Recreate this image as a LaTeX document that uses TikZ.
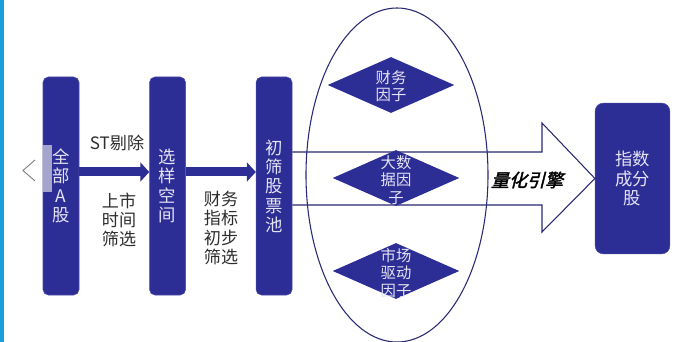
\documentclass[tikz,border=0pt]{standalone}
\usepackage{fontspec}
\setmainfont{Noto Sans CJK SC}
\newfontfamily\enginefont[FakeSlant=0.25,FakeBold=2]{Noto Sans CJK SC}
\usetikzlibrary{shapes.geometric,arrows.meta,positioning}
\definecolor{indexBlue}{RGB}{45,45,150}
\definecolor{lineNavy}{RGB}{40,40,115}
\definecolor{paleText}{RGB}{228,228,245}
\definecolor{labelGray}{RGB}{45,45,45}
\definecolor{edgeBlue}{RGB}{25,160,220}
\definecolor{maskGray}{RGB}{185,185,215}
\tikzset{
  stockbox/.style={fill=indexBlue,draw=indexBlue!85!white,rounded corners=4pt,
    minimum width=27pt,minimum height=163.5pt,inner sep=0pt,text=paleText,
    font=\fontsize{13}{14.5}\selectfont,align=center},
  factordiamond/.style={diamond,fill=indexBlue,minimum width=95pt,minimum height=42pt,inner sep=0pt},
  factortext/.style={text=paleText,font=\fontsize{11.5}{13}\selectfont,align=center,inner sep=0pt},
  steplabel/.style={text=labelGray,font=\fontsize{12.8}{14.3}\selectfont,align=center,inner sep=0pt},
  flowarrow/.style={indexBlue,line width=6.75pt,-{Triangle[length=6.75pt,width=14.25pt]}},
  enginearrow/.style={lineNavy,line width=0.8pt,line join=miter}
}
\begin{document}
\begin{tikzpicture}[x=0.75pt,y=-0.75pt]
  \useasboundingbox (0,0) rectangle (693,342);
  \fill[white] (0,0) rectangle (693,342);
  % screen edge
  \fill[edgeBlue] (0,0) rectangle (4,342);
  % stock boxes
  \node[stockbox] (allA) at (61,186) {全\\部\\A\\股};
  \node[stockbox,right=52.5pt of allA] (sample) {选\\样\\空\\间};
  \node[stockbox,right=52.5pt of sample] (pool) {初\\筛\\股\\票\\池};
  \node[stockbox,minimum width=56pt,minimum height=113pt,rounded corners=6pt] (index) at (632.5,178.5) {指数\\成分\\股};
  % overlay marks
  \fill[maskGray,opacity=0.85] (43,145) rectangle (52,192);
  \draw[gray,line width=0.7pt] (35,160) -- (23,170.5) -- (35,181);
  % filter arrows
  \draw[flowarrow] ([yshift=10.5pt]allA.east) -- ([yshift=10.5pt]sample.west);
  \draw[flowarrow] ([yshift=10.5pt]sample.east) -- ([yshift=10.5pt]pool.west);
  \node[steplabel] (stCut) at (117,143) {ST剔除};
  \node[steplabel] (listTime) at (119,220) {上市\\时间\\筛选};
  \node[steplabel] (finFilter) at (221,228) {财务\\指标\\初步\\筛选};
  % factor ellipse
  \draw[lineNavy,line width=0.8pt] (397,175) ellipse [x radius=68.25pt,y radius=125.25pt];
  % quant engine arrow
  \draw[enginearrow] ([yshift=25.5pt]pool.east) -- (542,152) -- (542,123) -- (index.west)
    -- (542,232) -- (542,205) -- ([yshift=-14.25pt]pool.east);
  \node[inner sep=0pt,text=black,font=\enginefont\fontsize{13.5}{15}\selectfont] (engine) at (527,180) {量化引擎};
  % factors
  \node[factordiamond] (finD) at (391,85) {};
  \node[factortext] (finL) at (391,86) {财务\\因子};
  \node[factordiamond] (dataD) at (396,178) {};
  \node[factortext] (dataL) at (396,180) {大数\\据因\\子};
  \node[factordiamond] (mktD) at (396,271) {};
  \node[factortext] (mktL) at (396,273) {市场\\驱动\\因子};
\end{tikzpicture}
\end{document}
